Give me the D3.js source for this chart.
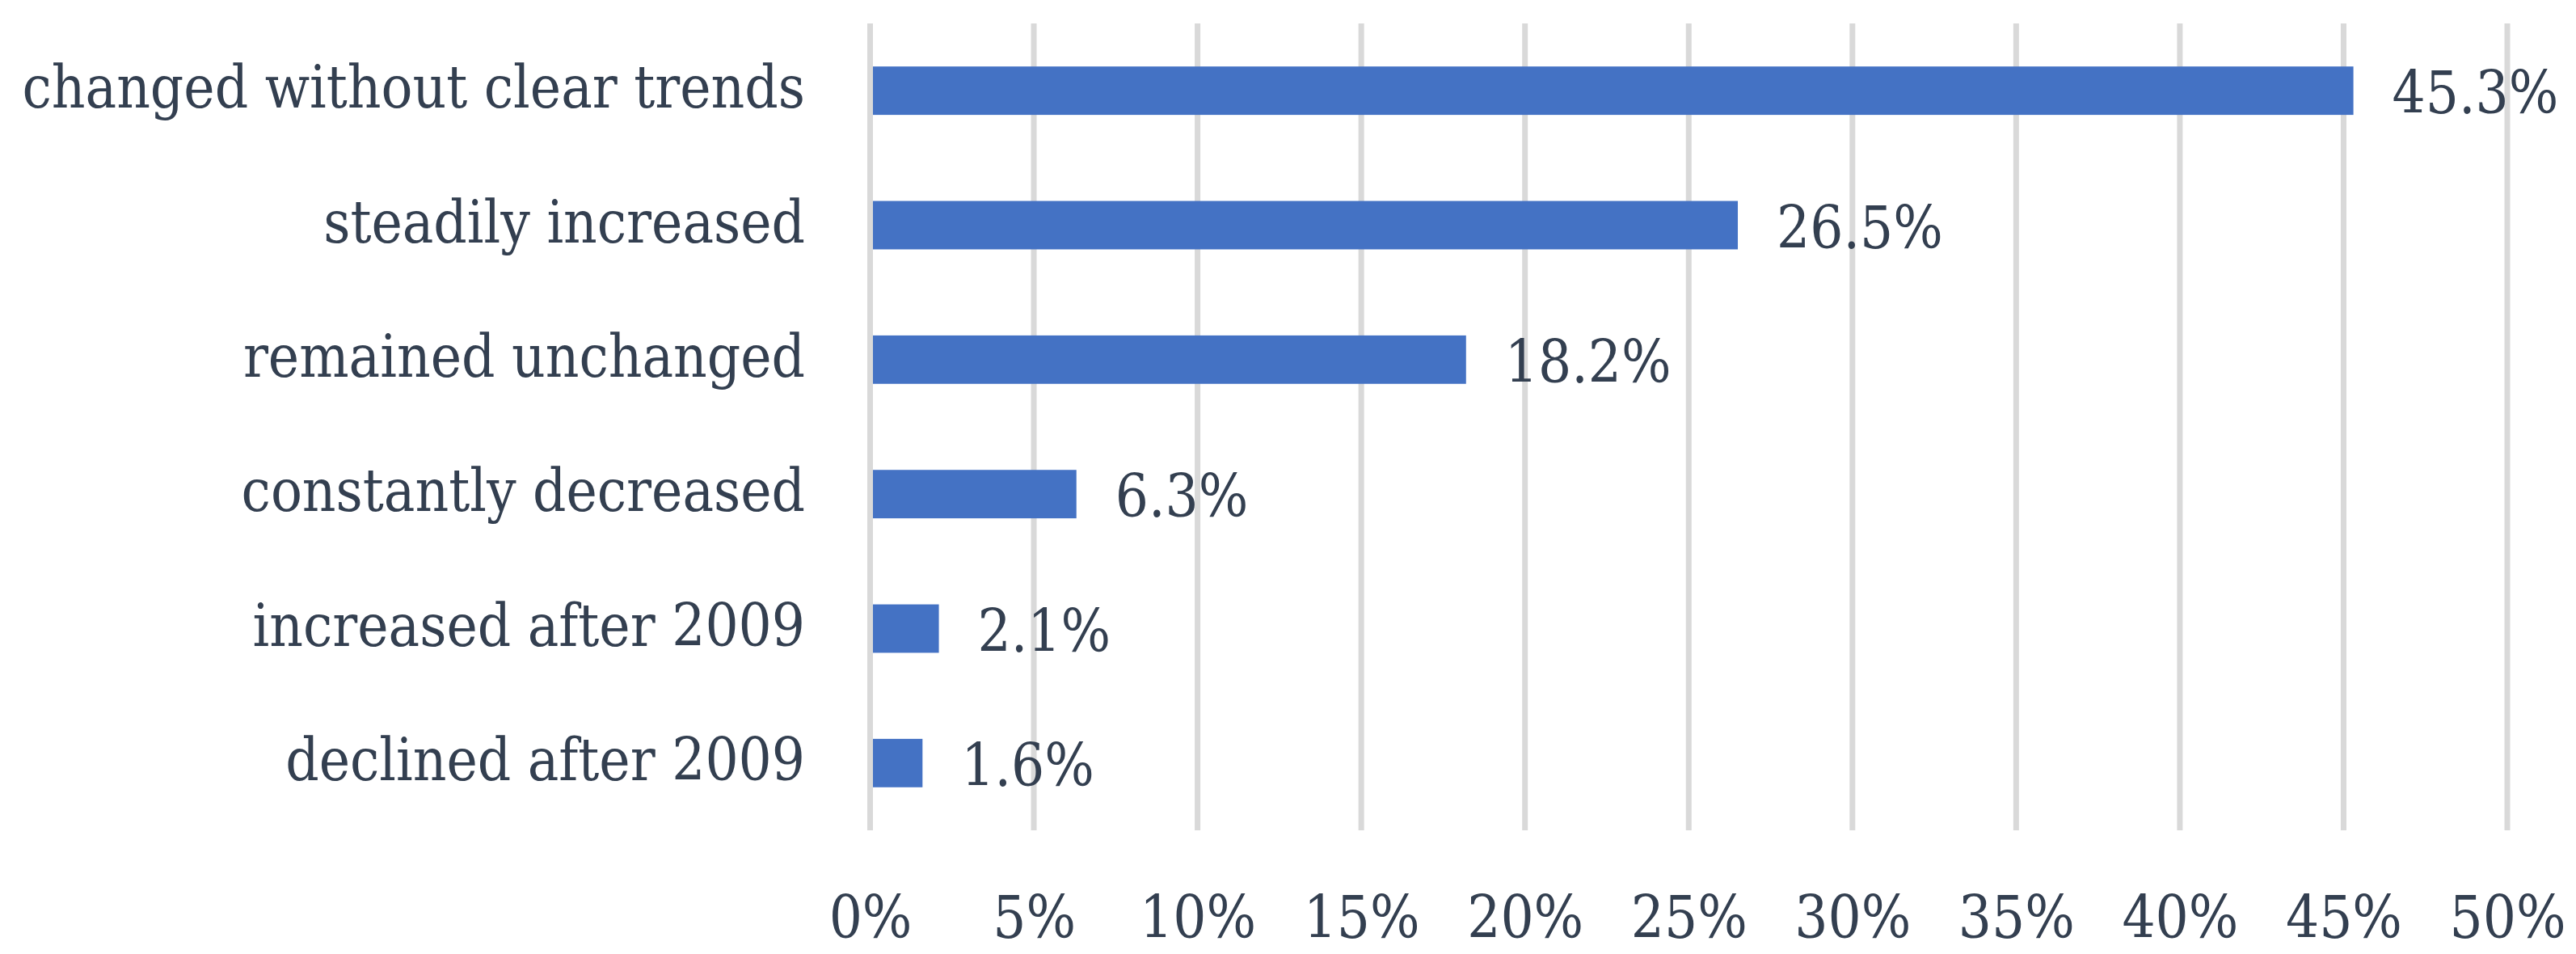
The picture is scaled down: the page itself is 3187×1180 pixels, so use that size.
<!DOCTYPE html>
<html>
<head>
<meta charset="utf-8">
<script src="https://cdn.jsdelivr.net/npm/d3@7"></script>
<style>
  html, body { margin: 0; padding: 0; background: #ffffff; }
  svg { display: block; }
  text { font-family: "DejaVu Serif Condensed", "DejaVu Serif", serif; font-stretch: condensed; fill: #333F50; }
</style>
</head>
<body>
<svg id="chart" width="3187" height="1180"></svg>
<script>
const categories = [
  "changed without clear trends",
  "steadily increased",
  "remained unchanged",
  "constantly decreased",
  "increased after 2009",
  "declined after 2009"
];
const values = [45.3, 26.5, 18.2, 6.3, 2.1, 1.6];
const tickValues = [0, 5, 10, 15, 20, 25, 30, 35, 40, 45, 50];
const tickLabels = ["0%", "5%", "10%", "15%", "20%", "25%", "30%", "35%", "40%", "45%", "50%"];

const W = 3187, H = 1180;
const plot = { left: 1076.5, right: 3102, top: 29, bottom: 1027 };
const fontSize = 72;

const svg = d3.select("#chart");

const x = d3.scaleLinear().domain([0, 50]).range([plot.left, plot.right]);
const y = d3.scaleBand().domain(categories).range([plot.top, plot.bottom])
  .paddingInner(0.64).paddingOuter(0.32);

// gridlines
svg.append("g").selectAll("line").data(tickValues).join("line")
  .attr("x1", d => x(d)).attr("x2", d => x(d))
  .attr("y1", plot.top).attr("y2", plot.bottom)
  .attr("stroke", "#D9D9D9").attr("stroke-width", 7);

// bars
svg.append("g").selectAll("rect").data(values).join("rect")
  .attr("x", x(0) + 3.5)
  .attr("y", (d, i) => y(categories[i]))
  .attr("width", d => x(d) - x(0) - 3.5)
  .attr("height", y.bandwidth())
  .attr("fill", "#4472C4");

// value labels
svg.append("g").selectAll("text").data(values).join("text")
  .attr("x", d => x(d) + 48)
  .attr("y", (d, i) => y(categories[i]) + y.bandwidth() / 2 + 28)
  .attr("font-size", fontSize)
  .text(d => d.toFixed(1) + "%");

// category axis labels
svg.append("g").selectAll("text").data(categories).join("text")
  .attr("x", 996)
  .attr("y", d => y(d) + y.bandwidth() / 2 + 21)
  .attr("text-anchor", "end")
  .attr("font-size", fontSize)
  .text(d => d);

// x axis tick labels
const xAxis = d3.axisBottom(x).tickValues(tickValues)
  .tickFormat((d, i) => tickLabels[i]).tickSize(0).tickPadding(0);
const gx = svg.append("g").attr("transform", `translate(0, 1160)`).call(xAxis);
gx.select(".domain").remove();
gx.selectAll("text")
  .attr("y", 0).attr("dy", null)
  .attr("font-size", fontSize)
  .attr("fill", "#333F50")
  .style("font-family", '"DejaVu Serif Condensed", "DejaVu Serif", serif');
gx.attr("font-family", null).attr("font-size", null);
</script>
</body>
</html>
